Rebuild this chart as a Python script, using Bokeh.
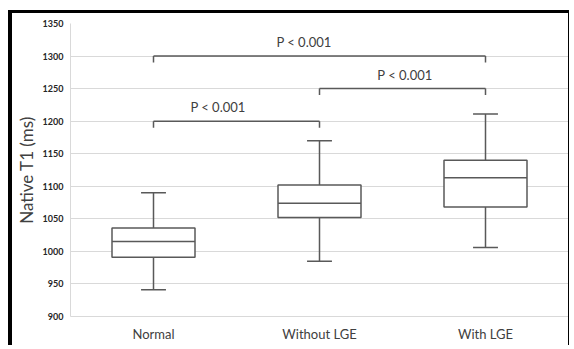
from bokeh.plotting import figure
from bokeh.models import Range1d, FixedTicker, ColumnDataSource
from bokeh.embed import file_html
from bokeh.resources import INLINE

# ---- data ----
categories = ["Normal", "Without LGE", "With LGE"]
whisker_low = [941, 985, 1006]
q1 = [991, 1052, 1068]
median = [1015, 1074, 1113]
q3 = [1036, 1102, 1140]
whisker_high = [1090, 1170, 1211]

y_ticks = [900, 950, 1000, 1050, 1100, 1150, 1200, 1250, 1300, 1350]

# significance brackets: (left group, right group, level, label)
bracket_left = [0, 1, 0]
bracket_right = [2, 2, 1]
bracket_level = [1300, 1250, 1200]
bracket_label = ["P < 0.001", "P < 0.001", "P < 0.001"]
label_x = [1.407, 2.015, 0.889]

FONT = "Lato"
BOX_COLOR = "#595959"
GRID_COLOR = "#d9d9d9"

xs = [i + 0.5 for i in range(len(categories))]

p = figure(width=561, height=335, output_backend="svg", toolbar_location=None,
           x_range=Range1d(0, len(categories)), y_range=Range1d(900, 1350),
           min_border_left=58, min_border_right=5, min_border_top=10, min_border_bottom=32)
p.styles = {"border-left": "4px solid black", "border-top": "3px solid black",
            "border-right": "1px solid black", "margin-top": "10px", "margin-left": "8px"}
p.outline_line_color = None
p.background_fill_color = "white"
p.border_fill_color = "white"

# axes
p.xaxis.ticker = FixedTicker(ticks=xs)
p.xaxis.major_label_overrides = {x: c for x, c in zip(xs, categories)}
p.xaxis.major_tick_line_color = None
p.xaxis.minor_tick_line_color = None
p.xaxis.axis_line_color = GRID_COLOR
p.xaxis.major_label_text_font = FONT
p.xaxis.major_label_text_font_size = "13px"
p.xaxis.major_label_text_color = "#404040"
p.xaxis.major_label_standoff = 3

p.yaxis.ticker = FixedTicker(ticks=y_ticks)
p.yaxis.major_tick_line_color = None
p.yaxis.minor_tick_line_color = None
p.yaxis.axis_line_color = GRID_COLOR
p.yaxis.major_label_text_font = FONT
p.yaxis.major_label_text_font_size = "9px"
p.yaxis.major_label_text_font_style = "bold"
p.yaxis.major_label_text_color = "#262626"
p.yaxis.major_label_standoff = 1
p.yaxis.axis_label = "Native T1 (ms)"
p.yaxis.axis_label_text_font = FONT
p.yaxis.axis_label_text_font_size = "17px"
p.yaxis.axis_label_text_font_style = "normal"
p.yaxis.axis_label_text_color = "#404040"
p.yaxis.axis_label_standoff = 3

p.xgrid.grid_line_color = None
p.ygrid.grid_line_color = GRID_COLOR
p.ygrid.grid_line_width = 1

src = ColumnDataSource(dict(x=xs, lo=whisker_low, q1=q1, med=median, q3=q3, hi=whisker_high,
                            cl=[x - 0.075 for x in xs], cr=[x + 0.075 for x in xs],
                            bl=[x - 0.25 for x in xs], br=[x + 0.25 for x in xs]))

# whiskers
p.segment(x0="x", y0="q3", x1="x", y1="hi", source=src, line_color=BOX_COLOR, line_width=1.5)
p.segment(x0="x", y0="lo", x1="x", y1="q1", source=src, line_color=BOX_COLOR, line_width=1.5)
# caps
p.segment(x0="cl", y0="hi", x1="cr", y1="hi", source=src, line_color=BOX_COLOR, line_width=1.5)
p.segment(x0="cl", y0="lo", x1="cr", y1="lo", source=src, line_color=BOX_COLOR, line_width=1.5)
# boxes
p.vbar(x="x", width=0.5, bottom="q1", top="q3", source=src, fill_color="white",
       line_color=BOX_COLOR, line_width=1.5)
# medians
p.segment(x0="bl", y0="med", x1="br", y1="med", source=src, line_color=BOX_COLOR, line_width=1.5)

# brackets
tick_len = 10
bx0 = [xs[i] for i in bracket_left]
bx1 = [xs[i] for i in bracket_right]
bsrc = ColumnDataSource(dict(x0=bx0, x1=bx1, y=bracket_level,
                             yt=[y - tick_len for y in bracket_level],
                             ty=[y + 21 for y in bracket_level],
                             tx=label_x, label=bracket_label))
p.segment(x0="x0", y0="y", x1="x1", y1="y", source=bsrc, line_color=BOX_COLOR, line_width=1.5)
p.segment(x0="x0", y0="y", x1="x0", y1="yt", source=bsrc, line_color=BOX_COLOR, line_width=1.5)
p.segment(x0="x1", y0="y", x1="x1", y1="yt", source=bsrc, line_color=BOX_COLOR, line_width=1.5)
p.text(x="tx", y="ty", text="label", source=bsrc, text_align="center", text_baseline="middle",
       text_font={"value": FONT}, text_font_size="13px", text_color="#404040")

open("out.html", "w").write(file_html(p, INLINE))
